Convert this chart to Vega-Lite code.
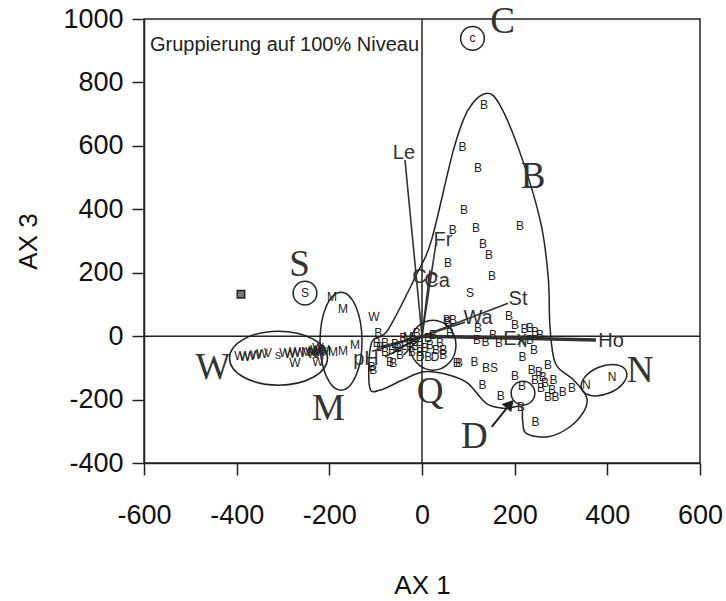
{
  "$schema": "https://vega.github.io/schema/vega-lite/v6.json",
  "autosize": {"type": "none"},
  "padding": {"left": 144, "top": 19, "right": 26, "bottom": 138},
  "width": 556,
  "height": 444,
  "background": "white",
  "config": {
    "view": {"stroke": "#222", "strokeWidth": 1.5},
    "axis": {"grid": false, "domainColor": "#222", "domainWidth": 1.5, "tickColor": "#222", "tickWidth": 1.5, "tickSize": 12, "labelFont": "Liberation Sans", "labelFontSize": 27, "labelColor": "#111", "titleFont": "Liberation Sans", "titleFontSize": 26, "titleFontWeight": "normal", "titleColor": "#111", "labelOverlap": false, "labelExpr": "datum.value + ''"},
    "axisX": {"labelFlush": false, "labelPadding": 27, "titleX": 278, "titleY": 122, "titleBaseline": "middle"},
    "axisY": {"labelPadding": 9, "titleX": -116, "titleY": 222, "titleBaseline": "middle"}
  },
  "datasets": {
    "hull": [
      {"o": 1, "x": -113.1, "y": -159.9}, {"o": 2, "x": -109.2, "y": -22.7}, {"o": 3, "x": -73.8, "y": 19.2}, {"o": 4, "x": -10.8, "y": 197.7},
      {"o": 5, "x": 20.5, "y": 302.7}, {"o": 6, "x": 67.8, "y": 586.6}, {"o": 7, "x": 99.3, "y": 712.7}, {"o": 8, "x": 138.6, "y": 765.4},
      {"o": 9, "x": 170.1, "y": 723.4}, {"o": 10, "x": 217.1, "y": 555.0}, {"o": 11, "x": 256.6, "y": 355.4}, {"o": 12, "x": 272.4, "y": 187.0},
      {"o": 13, "x": 276.3, "y": 29.3}, {"o": 14, "x": 288.1, "y": -86.1}, {"o": 15, "x": 327.4, "y": -138.4}, {"o": 16, "x": 354.8, "y": -191.4},
      {"o": 17, "x": 351.0, "y": -233.4}, {"o": 18, "x": 319.4, "y": -285.7}, {"o": 19, "x": 272.4, "y": -317.3}, {"o": 20, "x": 225.1, "y": -306.5},
      {"o": 21, "x": 217.1, "y": -264.9}, {"o": 22, "x": 213.3, "y": -222.6}, {"o": 23, "x": 177.9, "y": -227.7}, {"o": 24, "x": 138.6, "y": -211.9},
      {"o": 25, "x": 99.3, "y": -148.8}, {"o": 26, "x": 60.0, "y": -123.0}, {"o": 27, "x": 5.0, "y": -112.3}, {"o": 28, "x": -42.3, "y": -138.4},
      {"o": 29, "x": -89.6, "y": -170.0}
    ],
    "vec": [
      {"lab": "Le", "x": -36.7, "y": 555}, {"lab": "Ca", "x": 17.3, "y": 208}, {"lab": "Fr", "x": 30.2, "y": 293},
      {"lab": "St", "x": 185.6, "y": 104.1}, {"lab": "Wa", "x": 92.8, "y": 44.2}, {"lab": "Ex", "x": 179.1, "y": -6.3},
      {"lab": "Ho", "x": 375.6, "y": -12.3}, {"lab": "pH", "x": -107.9, "y": -47.3}, {"lab": "v1", "x": -80, "y": -66},
      {"lab": "v2", "x": -60, "y": -45}, {"lab": "v3", "x": -95, "y": -35}, {"lab": "v4", "x": -40, "y": -60}
    ],
    "vlab": [
      {"t": "Le", "x": -38.9, "y": 577.1}, {"t": "Co", "x": 6.5, "y": 186.1}, {"t": "Ca", "x": 32.4, "y": 173.4},
      {"t": "Fr", "x": 45.3, "y": 302.7}, {"t": "St", "x": 207.2, "y": 116.7}, {"t": "Wa", "x": 120.9, "y": 56.8},
      {"t": "Ex", "x": 200.7, "y": -9.5}, {"t": "Ho", "x": 407.9, "y": -15.5}, {"t": "pH", "x": -120.9, "y": -72.5}
    ],
    "pts": [
      {"t": "B", "x": 133.8, "y": 728.5}, {"t": "B", "x": 87.4, "y": 597}, {"t": "B", "x": 120.9, "y": 528.9}, {"t": "B", "x": 90.7, "y": 397.4},
      {"t": "B", "x": 66.3, "y": 334.3}, {"t": "B", "x": 116.6, "y": 340.6}, {"t": "B", "x": 211.5, "y": 346.9}, {"t": "B", "x": 131.7, "y": 290.1},
      {"t": "B", "x": 144.6, "y": 255.4}, {"t": "B", "x": 56.1, "y": 230.2}, {"t": "B", "x": 151.1, "y": 189.2}, {"t": "S", "x": 103.6, "y": 135.6},
      {"t": "B", "x": 56.1, "y": 44.2}, {"t": "B", "x": 66.9, "y": 50.5}, {"t": "B", "x": 60.4, "y": 9.5}, {"t": "B", "x": 120.9, "y": 25.2},
      {"t": "B", "x": 118.7, "y": -12.6}, {"t": "B", "x": 137.1, "y": -18.9}, {"t": "B", "x": 153.2, "y": 3.2}, {"t": "B", "x": 166.2, "y": -22.1},
      {"t": "B", "x": 187.8, "y": 63.1}, {"t": "B", "x": 200.7, "y": 34.7}, {"t": "B", "x": 221.2, "y": 22.1}, {"t": "B", "x": 233.1, "y": 25.2},
      {"t": "B", "x": 243.9, "y": 12.6}, {"t": "B", "x": 254.7, "y": 3.2}, {"t": "B", "x": 233.1, "y": -12.6}, {"t": "B", "x": 241.7, "y": -44.2},
      {"t": "B", "x": 217.1, "y": -65.3}, {"t": "N", "x": 217.1, "y": -22.1},
      {"t": "B", "x": 79.9, "y": -85.1}, {"t": "B", "x": 113.3, "y": -81.1}, {"t": "B", "x": 138.1, "y": -100.9}, {"t": "S", "x": 155.4, "y": -100.9},
      {"t": "B", "x": 130.8, "y": -154.5}, {"t": "B", "x": 170.1, "y": -189.2}, {"t": "B", "x": 200.7, "y": -126.1}, {"t": "B", "x": 215.8, "y": -157.7},
      {"t": "B", "x": 213.7, "y": -223}, {"t": "B", "x": 244.8, "y": -270.3}, {"t": "B", "x": 237, "y": -107.2}, {"t": "B", "x": 252.5, "y": -112.6},
      {"t": "B", "x": 272, "y": -91.5}, {"t": "B", "x": 260.5, "y": -128.3}, {"t": "B", "x": 284, "y": -138.8}, {"t": "B", "x": 256.9, "y": -164},
      {"t": "B", "x": 280.6, "y": -170.3}, {"t": "B", "x": 303.7, "y": -175.7}, {"t": "B", "x": 272, "y": -191.4}, {"t": "B", "x": 288.1, "y": -191.4},
      {"t": "B", "x": 323.5, "y": -164}, {"t": "B", "x": 243.9, "y": -138.8}, {"t": "B", "x": 265.5, "y": -148.2},
      {"t": "N", "x": 354.8, "y": -154.5}, {"t": "N", "x": 410.1, "y": -128.3},
      {"t": "c", "x": 109, "y": 938.8}, {"t": "S", "x": -252.5, "y": 135.6},
      {"t": "W", "x": -392.8, "y": -63.1}, {"t": "W", "x": -382, "y": -66.2}, {"t": "W", "x": -371.2, "y": -63.1}, {"t": "W", "x": -358.3, "y": -59.9},
      {"t": "W", "x": -345.3, "y": -56.8}, {"t": "V", "x": -332.4, "y": -53.6}, {"t": "s", "x": -310.8, "y": -59.9}, {"t": "W", "x": -295.7, "y": -53.6},
      {"t": "W", "x": -284.9, "y": -56.8}, {"t": "W", "x": -274.1, "y": -50.5}, {"t": "W", "x": -263.3, "y": -53.6}, {"t": "M", "x": -250.4, "y": -50.5},
      {"t": "W", "x": -239.6, "y": -50.5}, {"t": "W", "x": -228.8, "y": -44.2}, {"t": "W", "x": -218, "y": -50.5}, {"t": "W", "x": -224.5, "y": -37.8},
      {"t": "M", "x": -207.2, "y": -47.3}, {"t": "M", "x": -192.1, "y": -50.5}, {"t": "W", "x": -274.1, "y": -85.1}, {"t": "W", "x": -224.5, "y": -82},
      {"t": "W", "x": -233, "y": -47}, {"t": "W", "x": -222, "y": -55}, {"t": "W", "x": -212, "y": -44}, {"t": "W", "x": -236, "y": -56},
      {"t": "M", "x": -194.3, "y": 123}, {"t": "M", "x": -170.5, "y": 85.1}, {"t": "W", "x": -103.6, "y": 59.9}, {"t": "M", "x": -170.5, "y": -47.3},
      {"t": "M", "x": -144.6, "y": -28.4},
      {"t": "B", "x": -94.3, "y": 8.5}, {"t": "B", "x": -97.8, "y": -23}, {"t": "B", "x": -79.9, "y": -23}, {"t": "B", "x": -108.6, "y": -96.8},
      {"t": "B", "x": -105.1, "y": -107.2}, {"t": "B", "x": -69.1, "y": -81}, {"t": "B", "x": -61.9, "y": -86.1}, {"t": "B", "x": -40.4, "y": -7.3},
      {"t": "B", "x": -11.4, "y": 8.5}, {"t": "B", "x": 53.3, "y": 50.5}, {"t": "B", "x": 46, "y": -44.2}, {"t": "B", "x": 46, "y": -59.9},
      {"t": "B", "x": 38.9, "y": -23}, {"t": "B", "x": 74.9, "y": -86.1}, {"t": "B", "x": 13.6, "y": -65.3},
      {"t": "D", "x": -4.3, "y": -66.2}, {"t": "D", "x": 28.1, "y": -66.2},
      {"t": "B", "x": -79.9, "y": -50.5}, {"t": "B", "x": -64.8, "y": -44.2}, {"t": "B", "x": -51.8, "y": -37.8}, {"t": "B", "x": -36.7, "y": -31.5},
      {"t": "B", "x": -25.9, "y": -22.1}, {"t": "B", "x": -15.1, "y": -31.5}, {"t": "B", "x": -4.3, "y": -18.9}, {"t": "B", "x": 6.5, "y": -37.8},
      {"t": "B", "x": 17.3, "y": -28.4}, {"t": "B", "x": 30.2, "y": -44.2}, {"t": "B", "x": -47.5, "y": -59.9}, {"t": "B", "x": -21.6, "y": -50.5},
      {"t": "B", "x": -4.3, "y": -50.5}, {"t": "B", "x": 13, "y": -6.3}, {"t": "B", "x": -58.3, "y": -25.2}, {"t": "B", "x": -90.7, "y": -34.7},
      {"t": "B", "x": -19.4, "y": -12.6}, {"t": "B", "x": 23.7, "y": 3.2}, {"t": "M", "x": -30.2, "y": -3.2}
    ],
    "big": [
      {"t": "C", "x": 174, "y": 991.8}, {"t": "B", "x": 239.6, "y": 501.4}, {"t": "S", "x": -264.4, "y": 223.9},
      {"t": "W", "x": -451.1, "y": -99.3}, {"t": "M", "x": -201.8, "y": -230.2}, {"t": "Q", "x": 17.3, "y": -176.6},
      {"t": "N", "x": 470.5, "y": -108.8}, {"t": "D", "x": 113.1, "y": -317.6}
    ]
  },
  "layer": [
    {
      "data": {"values": [{"x": 0}]},
      "mark": {"type": "rule", "color": "#222", "strokeWidth": 1.5},
      "encoding": {"x": {"field": "x", "type": "quantitative", "scale": {"domain": [-600, 600], "nice": false, "zero": false}, "axis": {"values": [-600, -400, -200, 0, 200, 400, 600]}, "title": "AX 1"}}
    },
    {
      "data": {"values": [{"y": 0}]},
      "mark": {"type": "rule", "color": "#222", "strokeWidth": 1.5},
      "encoding": {"y": {"field": "y", "type": "quantitative", "scale": {"domain": [-400, 1000], "nice": false, "zero": false}, "axis": {"values": [-400, -200, 0, 200, 400, 600, 800, 1000]}, "title": "AX 3"}}
    },
    {
      "data": {"name": "hull"},
      "mark": {"type": "line", "interpolate": "cardinal-closed", "color": "#222", "strokeWidth": 1.5},
      "encoding": {
        "x": {"field": "x", "type": "quantitative", "scale": {"domain": [-600, 600], "nice": false, "zero": false}, "axis": {"values": [-600, -400, -200, 0, 200, 400, 600]}, "title": "AX 1"},
        "y": {"field": "y", "type": "quantitative", "scale": {"domain": [-400, 1000], "nice": false, "zero": false}, "axis": {"values": [-400, -200, 0, 200, 400, 600, 800, 1000]}, "title": "AX 3"},
        "order": {"field": "o", "type": "quantitative"}
      }
    },
    {
      "data": {"name": "vec"},
      "mark": {"type": "rule", "color": "#333"},
      "encoding": {
        "x": {"field": "x", "type": "quantitative", "scale": {"domain": [-600, 600], "nice": false, "zero": false}, "axis": {"values": [-600, -400, -200, 0, 200, 400, 600]}, "title": "AX 1"},
        "y": {"field": "y", "type": "quantitative", "scale": {"domain": [-400, 1000], "nice": false, "zero": false}, "axis": {"values": [-400, -200, 0, 200, 400, 600, 800, 1000]}, "title": "AX 3"},
        "x2": {"datum": 0},
        "y2": {"datum": 0},
        "strokeWidth": {"condition": {"test": "datum.lab === 'Ho'", "value": 3.5}, "value": 1.6}
      }
    },
    {
      "data": {"name": "vlab"},
      "mark": {"type": "text", "font": "Liberation Sans", "fontSize": 20, "color": "#333"},
      "encoding": {
        "x": {"field": "x", "type": "quantitative", "scale": {"domain": [-600, 600], "nice": false, "zero": false}, "axis": {"values": [-600, -400, -200, 0, 200, 400, 600]}, "title": "AX 1"},
        "y": {"field": "y", "type": "quantitative", "scale": {"domain": [-400, 1000], "nice": false, "zero": false}, "axis": {"values": [-400, -200, 0, 200, 400, 600, 800, 1000]}, "title": "AX 3"},
        "text": {"field": "t"}
      }
    },
    {
      "data": {"values": [{"g": "W", "x": -309.7, "y": -69.4}]},
      "mark": {"type": "point", "shape": "M -1 0 A 1 0.551 0 1 1 1 0 A 1 0.551 0 1 1 -1 0 Z", "size": 9604, "filled": false, "color": "#222", "strokeWidth": 1.5, "opacity": 1},
      "encoding": {
        "x": {"field": "x", "type": "quantitative", "scale": {"domain": [-600, 600], "nice": false, "zero": false}, "axis": {"values": [-600, -400, -200, 0, 200, 400, 600]}, "title": "AX 1"},
        "y": {"field": "y", "type": "quantitative", "scale": {"domain": [-400, 1000], "nice": false, "zero": false}, "axis": {"values": [-400, -200, 0, 200, 400, 600, 800, 1000]}, "title": "AX 3"}
      }
    },
    {
      "data": {"values": [{"g": "M", "x": -174.8, "y": -15.8}]},
      "mark": {"type": "point", "shape": "M 0 -1 A 0.4286 1 0 1 1 0 1 A 0.4286 1 0 1 1 0 -1 Z", "size": 9604, "filled": false, "color": "#222", "strokeWidth": 1.5, "opacity": 1},
      "encoding": {
        "x": {"field": "x", "type": "quantitative", "scale": {"domain": [-600, 600], "nice": false, "zero": false}, "axis": {"values": [-600, -400, -200, 0, 200, 400, 600]}, "title": "AX 1"},
        "y": {"field": "y", "type": "quantitative", "scale": {"domain": [-400, 1000], "nice": false, "zero": false}, "axis": {"values": [-400, -200, 0, 200, 400, 600, 800, 1000]}, "title": "AX 3"}
      }
    },
    {
      "data": {"values": [{"g": "O", "x": 23.7, "y": -28.4}]},
      "mark": {"type": "point", "shape": "M 0 -1 A 0.92 1 0 1 1 0 1 A 0.92 1 0 1 1 0 -1 Z", "size": 2500, "filled": false, "color": "#222", "strokeWidth": 1.5, "opacity": 1},
      "encoding": {
        "x": {"field": "x", "type": "quantitative", "scale": {"domain": [-600, 600], "nice": false, "zero": false}, "axis": {"values": [-600, -400, -200, 0, 200, 400, 600]}, "title": "AX 1"},
        "y": {"field": "y", "type": "quantitative", "scale": {"domain": [-400, 1000], "nice": false, "zero": false}, "axis": {"values": [-400, -200, 0, 200, 400, 600, 800, 1000]}, "title": "AX 3"}
      }
    },
    {
      "data": {"values": [{"g": "N", "x": 392.8, "y": -138.8}]},
      "mark": {"type": "point", "shape": "M -1 0 A 1 0.58 0 1 1 1 0 A 1 0.58 0 1 1 -1 0 Z", "size": 2304, "angle": -22, "filled": false, "color": "#222", "strokeWidth": 1.5, "opacity": 1},
      "encoding": {
        "x": {"field": "x", "type": "quantitative", "scale": {"domain": [-600, 600], "nice": false, "zero": false}, "axis": {"values": [-600, -400, -200, 0, 200, 400, 600]}, "title": "AX 1"},
        "y": {"field": "y", "type": "quantitative", "scale": {"domain": [-400, 1000], "nice": false, "zero": false}, "axis": {"values": [-400, -200, 0, 200, 400, 600, 800, 1000]}, "title": "AX 3"}
      }
    },
    {
      "data": {"values": [{"g": "C", "x": 109, "y": 938.8}, {"g": "S", "x": -252.5, "y": 135.6}, {"g": "D", "x": 218, "y": -179.8}]},
      "mark": {"type": "point", "shape": "circle", "size": 560, "filled": false, "color": "#222", "strokeWidth": 1.5, "opacity": 1},
      "encoding": {
        "x": {"field": "x", "type": "quantitative", "scale": {"domain": [-600, 600], "nice": false, "zero": false}, "axis": {"values": [-600, -400, -200, 0, 200, 400, 600]}, "title": "AX 1"},
        "y": {"field": "y", "type": "quantitative", "scale": {"domain": [-400, 1000], "nice": false, "zero": false}, "axis": {"values": [-400, -200, 0, 200, 400, 600, 800, 1000]}, "title": "AX 3"}
      }
    },
    {
      "data": {"values": [{"x": -390.7, "y": 132}]},
      "mark": {"type": "point", "shape": "square", "size": 55, "filled": true, "fill": "#777", "stroke": "#222", "strokeWidth": 1.5, "opacity": 1},
      "encoding": {
        "x": {"field": "x", "type": "quantitative", "scale": {"domain": [-600, 600], "nice": false, "zero": false}, "axis": {"values": [-600, -400, -200, 0, 200, 400, 600]}, "title": "AX 1"},
        "y": {"field": "y", "type": "quantitative", "scale": {"domain": [-400, 1000], "nice": false, "zero": false}, "axis": {"values": [-400, -200, 0, 200, 400, 600, 800, 1000]}, "title": "AX 3"}
      }
    },
    {
      "data": {"name": "pts"},
      "mark": {"type": "text", "font": "Liberation Sans", "fontSize": 12, "color": "#222"},
      "encoding": {
        "x": {"field": "x", "type": "quantitative", "scale": {"domain": [-600, 600], "nice": false, "zero": false}, "axis": {"values": [-600, -400, -200, 0, 200, 400, 600]}, "title": "AX 1"},
        "y": {"field": "y", "type": "quantitative", "scale": {"domain": [-400, 1000], "nice": false, "zero": false}, "axis": {"values": [-400, -200, 0, 200, 400, 600, 800, 1000]}, "title": "AX 3"},
        "text": {"field": "t"}
      }
    },
    {
      "data": {"name": "big"},
      "mark": {"type": "text", "font": "Liberation Serif", "fontSize": 37, "color": "#333"},
      "encoding": {
        "x": {"field": "x", "type": "quantitative", "scale": {"domain": [-600, 600], "nice": false, "zero": false}, "axis": {"values": [-600, -400, -200, 0, 200, 400, 600]}, "title": "AX 1"},
        "y": {"field": "y", "type": "quantitative", "scale": {"domain": [-400, 1000], "nice": false, "zero": false}, "axis": {"values": [-400, -200, 0, 200, 400, 600, 800, 1000]}, "title": "AX 3"},
        "text": {"field": "t"}
      }
    },
    {
      "data": {"values": [{"t": "Gruppierung auf 100% Niveau", "x": -587.1, "y": 917.7}]},
      "mark": {"type": "text", "font": "Liberation Sans", "fontSize": 20, "align": "left", "baseline": "middle", "color": "#222"},
      "encoding": {
        "x": {"field": "x", "type": "quantitative", "scale": {"domain": [-600, 600], "nice": false, "zero": false}, "axis": {"values": [-600, -400, -200, 0, 200, 400, 600]}, "title": "AX 1"},
        "y": {"field": "y", "type": "quantitative", "scale": {"domain": [-400, 1000], "nice": false, "zero": false}, "axis": {"values": [-400, -200, 0, 200, 400, 600, 800, 1000]}, "title": "AX 3"},
        "text": {"field": "t"}
      }
    },
    {
      "data": {"values": [{"x": 150.5, "y": -286.2, "x2": 190, "y2": -214}]},
      "mark": {"type": "rule", "color": "#222", "strokeWidth": 2},
      "encoding": {
        "x": {"field": "x", "type": "quantitative", "scale": {"domain": [-600, 600], "nice": false, "zero": false}, "axis": {"values": [-600, -400, -200, 0, 200, 400, 600]}, "title": "AX 1"},
        "y": {"field": "y", "type": "quantitative", "scale": {"domain": [-400, 1000], "nice": false, "zero": false}, "axis": {"values": [-400, -200, 0, 200, 400, 600, 800, 1000]}, "title": "AX 3"},
        "x2": {"field": "x2"},
        "y2": {"field": "y2"}
      }
    },
    {
      "data": {"values": [{"x": 190, "y": -214}]},
      "mark": {"type": "point", "shape": "triangle-up", "size": 160, "angle": 41, "filled": true, "color": "#222", "opacity": 1},
      "encoding": {
        "x": {"field": "x", "type": "quantitative", "scale": {"domain": [-600, 600], "nice": false, "zero": false}, "axis": {"values": [-600, -400, -200, 0, 200, 400, 600]}, "title": "AX 1"},
        "y": {"field": "y", "type": "quantitative", "scale": {"domain": [-400, 1000], "nice": false, "zero": false}, "axis": {"values": [-400, -200, 0, 200, 400, 600, 800, 1000]}, "title": "AX 3"}
      }
    }
  ]
}
